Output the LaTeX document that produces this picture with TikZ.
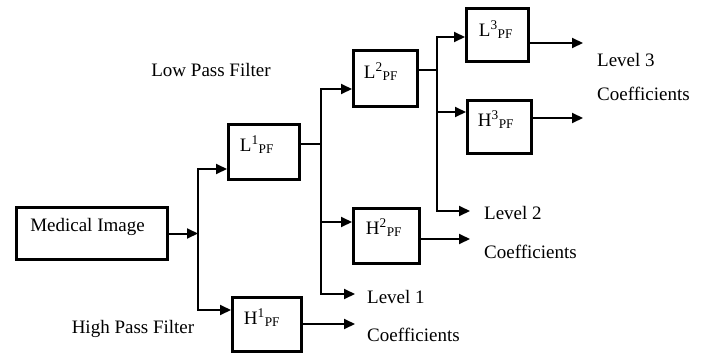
\documentclass[tikz,border=0pt]{standalone}
\usepackage{fontspec}
\setmainfont{Liberation Serif}
\usetikzlibrary{arrows.meta}
\begin{document}
\begin{tikzpicture}[x=1pt,y=-1pt,
  box/.style={draw, line width=3pt, inner sep=0pt},
  line/.style={line width=2pt, line cap=rect},
  conn/.style={line width=2pt, line cap=rect, -{Triangle[length=11pt,width=10pt]}},
  txt/.style={font=\fontsize{19}{22}\selectfont, inner sep=0pt},
  sub/.style={font=\fontsize{19}{22}\selectfont, inner sep=0pt}]
\useasboundingbox (0,0) rectangle (705,356);
\fill[white] (0,0) rectangle (705,356);
% boxes
\node[box, minimum width=151pt, minimum height=52pt] (mi) at (92,233.5) {};
\node[box, minimum width=71pt, minimum height=55pt] (l1) at (264,152) {};
\node[box, minimum width=69pt, minimum height=54pt] (h1) at (267,324.5) {};
\node[box, minimum width=64pt, minimum height=56pt] (l2) at (385.5,78.5) {};
\node[box, minimum width=66pt, minimum height=55pt] (h2) at (386.5,236) {};
\node[box, minimum width=62pt, minimum height=53pt] (l3) at (497.5,35) {};
\node[box, minimum width=64pt, minimum height=53pt] (h3) at (499.5,127) {};
% box texts
\node[txt] (tmi) at (87.5,227) {Medical Image};
\node[sub] (tl1) at (257,145) {L\textsuperscript{1}\textsubscript{PF}};
\node[sub] (th1) at (262,318) {H\textsuperscript{1}\textsubscript{PF}};
\node[sub] (tl2) at (381,72) {L\textsuperscript{2}\textsubscript{PF}};
\node[sub] (th2) at (384,228) {H\textsuperscript{2}\textsubscript{PF}};
\node[sub] (tl3) at (496,30) {L\textsuperscript{3}\textsubscript{PF}};
\node[sub] (th3) at (496,120) {H\textsuperscript{3}\textsubscript{PF}};
% free texts
\node[txt] (lpf) at (211,70) {Low Pass Filter};
\node[txt] (hpf) at (133,329) {High Pass Filter};
\node[txt, anchor=west] (lv3) at (597,60) {Level 3};
\node[txt, anchor=west] (co3) at (597,94) {Coefficients};
\node[txt, anchor=west] (lv2) at (484,213) {Level 2};
\node[txt, anchor=west] (co2) at (484,252) {Coefficients};
\node[txt, anchor=west] (lv1) at (367,297) {Level 1};
\node[txt, anchor=west] (co1) at (367,335) {Coefficients};
% junction coordinates
\coordinate (v1t) at (198,169);
\coordinate (v1b) at (198,310);
\coordinate (v2t) at (321,89);
\coordinate (v2m) at (321,222);
\coordinate (v2b) at (321,294);
\coordinate (o1) at (321,144);
\coordinate (v3t) at (437,37);
\coordinate (v3m) at (437,112);
\coordinate (v3b) at (437,211);
\coordinate (o2) at (437,70);
\coordinate (e3) at (583,43);
\coordinate (e4) at (583,118);
\coordinate (e5) at (470,239);
\coordinate (e6) at (355,324);
\coordinate (e7) at (355,294);
\coordinate (e8) at (470,211);
% level 1
\draw[conn] (mi.east) -- (mi.east -| v1t);
\draw[conn] (v1t) -- (v1b) -- (h1.west |- v1b);
\draw[conn] (v1t) -- (l1.west |- v1t);
\draw[conn] (h1.east |- e6) -- (e6);
% level 2
\draw[line] (l1.east |- o1) -- (o1);
\draw[conn] (v2t) -- (v2b) -- (e7);
\draw[conn] (v2t) -- (l2.west |- v2t);
\draw[conn] (v2m) -- (h2.west |- v2m);
\draw[conn] (h2.east |- e5) -- (e5);
% level 3
\draw[line] (l2.east |- o2) -- (o2);
\draw[conn] (v3t) -- (v3b) -- (e8);
\draw[conn] (v3t) -- (l3.west |- v3t);
\draw[conn] (v3m) -- (h3.west |- v3m);
\draw[conn] (l3.east |- e3) -- (e3);
\draw[conn] (h3.east |- e4) -- (e4);
\end{tikzpicture}
\end{document}
